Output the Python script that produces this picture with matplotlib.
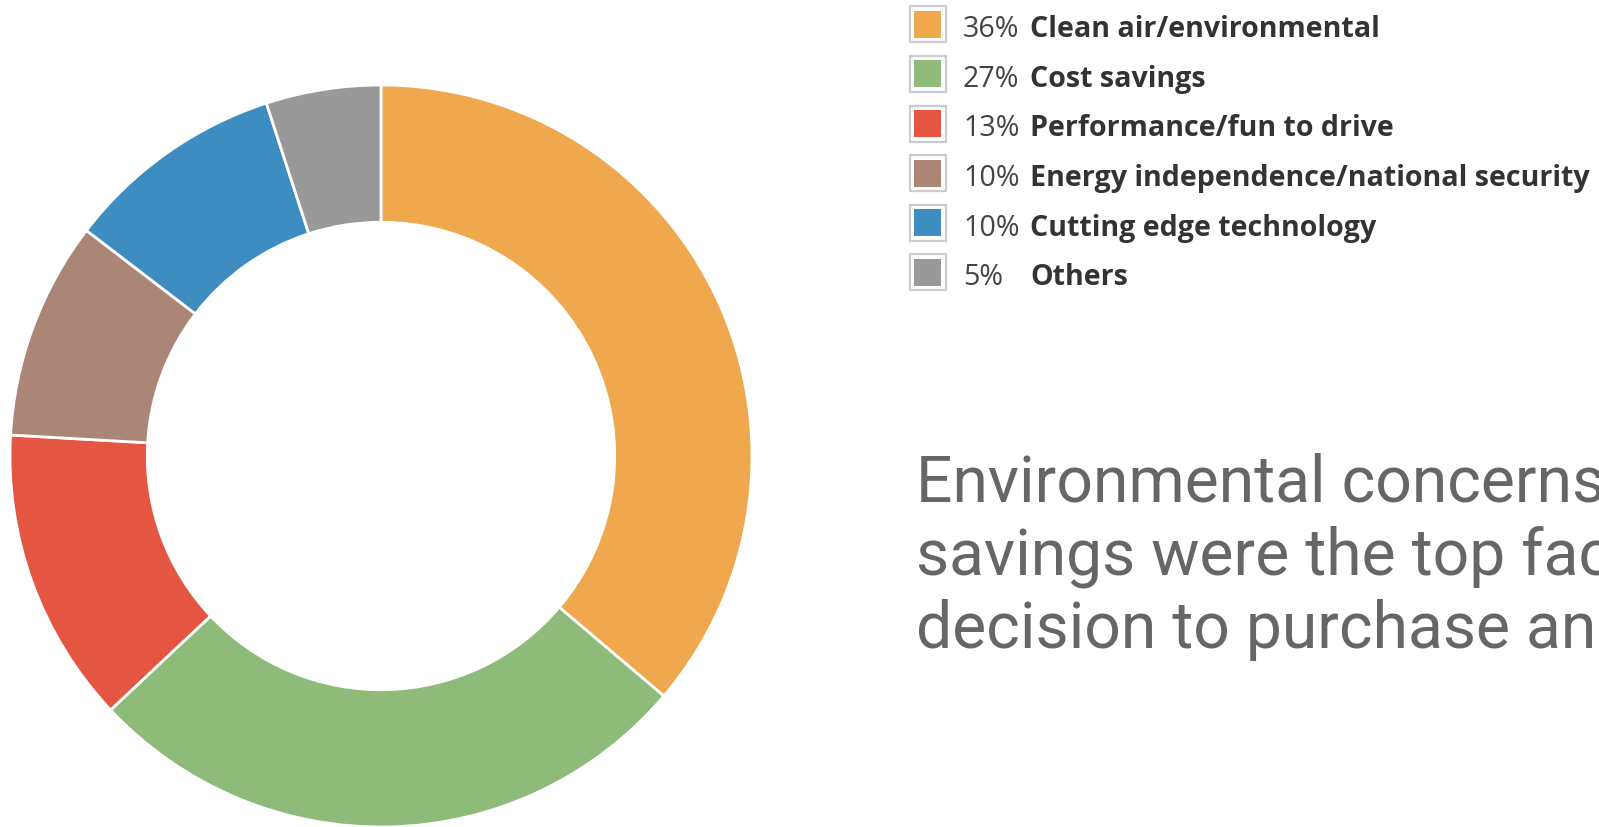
import matplotlib
matplotlib.use("Agg")
import matplotlib.pyplot as plt
from matplotlib.patches import Rectangle

categories = ["Clean air/environmental", "Cost savings", "Performance/fun to drive",
              "Energy independence/national security", "Cutting edge technology", "Others"]
pct_labels = ["36%", "27%", "13%", "10%", "10%", "5%"]
shares = [36.2, 26.8, 12.9, 9.5, 9.6, 5.0]
colors = ["#F0A84E", "#8FBB7A", "#E45642", "#AB8677", "#3E8DC1", "#999999"]
headline = ["Environmental concerns and cost",
            "savings were the top factors in the",
            "decision to purchase an EV"]

W, H = 1599, 828
fig = plt.figure(figsize=(W / 100, H / 100), dpi=100)
fig.patch.set_facecolor("white")

# donut
cx, cy, r = 381, 457, 371
ax = fig.add_axes([(cx - r) / W, (H - cy - r) / H, 2 * r / W, 2 * r / H])
ax.pie(shares, colors=colors, startangle=90, counterclock=False, radius=1.0,
       wedgeprops=dict(width=0.37, edgecolor="white", linewidth=2))
ax.set_xlim(-1.0, 1.0)
ax.set_ylim(-1.0, 1.0)
ax.axis("off")

# legend
box_x, box_s = 909.5, 36
inner_pad = 4.5
pct_x, lab_x = 963, 1030
row0, dy = 25.3, 49.6
for i, (cat, p, c) in enumerate(zip(categories, pct_labels, colors)):
    yc = row0 + i * dy
    fig.patches.append(Rectangle((box_x / W, (H - yc - box_s / 2) / H), box_s / W, box_s / H,
                                 transform=fig.transFigure, facecolor="white",
                                 edgecolor="#CCCCCC", linewidth=1.6))
    s2 = box_s - 2 * inner_pad
    fig.patches.append(Rectangle(((box_x + inner_pad) / W, (H - yc - s2 / 2) / H), s2 / W, s2 / H,
                                 transform=fig.transFigure, facecolor=c, edgecolor="none"))
    fig.text(pct_x / W, (H - yc - 12) / H, p, fontsize=20.6, family="Open Sans",
             color="#444444", va="baseline", ha="left")
    fig.text(lab_x / W, (H - yc - 12) / H, cat, fontsize=20.6, family="Open Sans",
             fontweight="bold", color="#333333", va="baseline", ha="left")

# headline
base0, lsp = 502, 73
for j, line in enumerate(headline):
    fig.text(916 / W, (H - (base0 + j * lsp)) / H, line, fontsize=46.3, family="Roboto",
             color="#666666", va="baseline", ha="left")

fig.savefig("out.png", dpi=100, facecolor="white")
